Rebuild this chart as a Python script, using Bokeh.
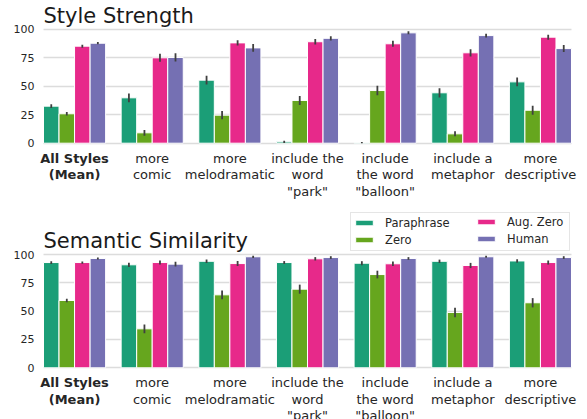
from bokeh.plotting import figure
from bokeh.models import Range1d, Label, Legend, LegendItem, FixedTicker, ColumnDataSource
from bokeh.layouts import column
from bokeh.embed import file_html
from bokeh.resources import INLINE

categories = ["All Styles\n(Mean)", "more\ncomic", "more\nmelodramatic",
              "include the\nword\n\"park\"", "include\nthe word\n\"balloon\"",
              "include a\nmetaphor", "more\ndescriptive"]
series = ["Paraphrase", "Zero", "Aug. Zero", "Human"]
colors = ["#1b9e77", "#66a61e", "#e7298a", "#7570b3"]
y_ticks = [0, 25, 50, 75, 100]

# Style Strength
style_paraphrase = [32.5, 39.8, 55.3, 1.2, 0.5, 44.2, 53.8]
style_zero = [25.8, 9.1, 24.6, 37.5, 46.2, 8.2, 28.9]
style_aug_zero = [85.1, 74.9, 88.0, 89.0, 87.2, 79.3, 93.0]
style_human = [87.7, 75.2, 83.6, 92.0, 96.8, 94.4, 83.0]
style_paraphrase_err = [1.7, 3.8, 3.9, 1.0, 0.5, 4.1, 3.8]
style_zero_err = [1.5, 2.5, 3.7, 4.0, 4.1, 2.2, 3.9]
style_aug_zero_err = [1.3, 3.5, 2.3, 2.5, 2.6, 3.2, 2.2]
style_human_err = [1.0, 3.6, 3.4, 1.9, 1.3, 1.6, 3.1]

# Semantic Similarity
sem_paraphrase = [92.9, 90.9, 94.0, 92.9, 92.3, 94.0, 94.3]
sem_zero = [59.4, 34.4, 64.4, 69.4, 82.3, 48.8, 57.4]
sem_aug_zero = [92.9, 92.9, 92.0, 96.2, 91.8, 90.3, 92.9]
sem_human = [96.5, 91.5, 98.0, 97.3, 96.5, 98.0, 97.3]
sem_paraphrase_err = [1.2, 1.9, 1.5, 1.3, 1.8, 1.5, 1.5]
sem_zero_err = [1.6, 3.8, 3.8, 4.0, 3.4, 4.1, 4.1]
sem_aug_zero_err = [1.0, 1.8, 2.2, 1.5, 2.0, 2.3, 1.8]
sem_human_err = [0.9, 2.2, 1.0, 1.2, 1.2, 0.9, 1.2]

FONT = "DejaVu Sans"
TEXT = "#262626"
BAR_W = 0.2
OFFSETS = [-0.3, -0.1, 0.1, 0.3]

# layout (pixels)
W = 582
LEFT = 36          # frame left
BARS_LEFT = 43     # where the first bar starts
BARS_RIGHT = 571   # where the last bar ends
X0 = -0.4
X1 = len(categories) - 0.6
PX_PER_X = (BARS_RIGHT - BARS_LEFT) / (X1 - X0)
X_START = X0 - (BARS_LEFT - LEFT) / PX_PER_X
X_END = X0 + (W - BARS_LEFT) / PX_PER_X


def make_panel(title, values, errs, height, px100, px0, title_top_px):
    ppu = (px0 - px100) / 100.0
    y_end = 100 + px100 / ppu
    y_start = -(height - px0) / ppu
    p = figure(width=W, height=height, title=None,
               x_range=Range1d(X_START, X_END),
               y_range=Range1d(y_start, y_end),
               output_backend="svg", toolbar_location=None,
               min_border_left=LEFT, min_border_right=0,
               min_border_top=0, min_border_bottom=0)
    p.outline_line_color = None
    p.background_fill_color = "white"
    p.xaxis.visible = False
    p.xgrid.visible = False
    grid_ok = False
    try:
        p.ygrid.cross_bounds = (X0, X1)
        grid_ok = True
    except Exception:
        grid_ok = False
    if grid_ok:
        p.ygrid.ticker = FixedTicker(ticks=y_ticks)
        p.ygrid.grid_line_color = "#dcdcdc"
        p.ygrid.grid_line_width = 1.5
    else:
        p.ygrid.visible = False
        p.segment(x0=[X0] * len(y_ticks), x1=[X1] * len(y_ticks),
                  y0=y_ticks, y1=y_ticks, line_color="#dcdcdc", line_width=1.5)
    ax = p.yaxis[0]
    ax.ticker = FixedTicker(ticks=y_ticks)
    ax.axis_line_color = None
    ax.major_tick_line_color = None
    ax.minor_tick_line_color = None
    ax.major_tick_out = 0
    ax.major_tick_in = 0
    ax.minor_tick_out = 0
    ax.minor_tick_in = 0
    ax.major_label_standoff = 2
    ax.major_label_text_font = FONT
    ax.major_label_text_font_size = "11px"
    ax.major_label_text_color = TEXT

    renderers = []
    for j, name in enumerate(series):
        xs = [i + OFFSETS[j] for i in range(len(categories))]
        vals = values[j]
        e = errs[j]
        src = ColumnDataSource(dict(
            x=xs, top=vals,
            lo=[v - d for v, d in zip(vals, e)],
            hi=[v + d for v, d in zip(vals, e)]))
        r = p.vbar(x="x", top="top", bottom=0, width=BAR_W, source=src,
                   fill_color=colors[j], line_color="white", line_width=1)
        p.segment(x0="x", x1="x", y0="lo", y1="hi", source=src,
                  line_color="#404040", line_width=1.8)
        renderers.append(r)

    label_y = -7.5 / ppu
    for i, cat in enumerate(categories):
        p.add_layout(Label(x=i, y=label_y, text=cat, text_align="center",
                           text_baseline="top", text_font=FONT,
                           text_font_size="13px", text_color=TEXT,
                           text_line_height=1.1,
                           text_font_style="bold" if i == 0 else "normal"))
    p.add_layout(Label(x=X0, y=100 + (px100 - title_top_px) / ppu, text=title,
                       text_align="left", text_baseline="top",
                       text_font=FONT, text_font_size="21px",
                       text_color="#1a1a1a"))
    return p, renderers


H1 = 200
H2 = 219
p1, _ = make_panel("Style Strength",
                   [style_paraphrase, style_zero, style_aug_zero, style_human],
                   [style_paraphrase_err, style_zero_err, style_aug_zero_err, style_human_err],
                   H1, 28.7, 142.7, 3.3)
p2, rs = make_panel("Semantic Similarity",
                    [sem_paraphrase, sem_zero, sem_aug_zero, sem_human],
                    [sem_paraphrase_err, sem_zero_err, sem_aug_zero_err, sem_human_err],
                    H2, 254 - H1, 367.3 - H1, 228.4 - H1)

leg_bottom = H2 - (250.7 - H1)
common = dict(label_text_font=FONT, label_text_font_size="11.5px",
              label_text_color=TEXT, glyph_width=22, glyph_height=7,
              label_standoff=10, label_height=16, padding=2, spacing=1, margin=0)
leg1 = Legend(items=[LegendItem(label=series[0], renderers=[rs[0]]),
                     LegendItem(label=series[1], renderers=[rs[1]])],
              location=(350 - LEFT, leg_bottom), label_width=182,
              border_line_color="#cccccc", border_line_width=1,
              background_fill_color="white", background_fill_alpha=0.8,
              **common)
leg2 = Legend(items=[LegendItem(label=series[2], renderers=[rs[2]]),
                     LegendItem(label=series[3], renderers=[rs[3]])],
              location=(473 - LEFT, leg_bottom + 2),
              border_line_color="#cccccc", border_line_width=1, border_line_alpha=0,
              background_fill_alpha=0,
              **common)
p2.add_layout(leg1)
p2.add_layout(leg2)

layout = column(p1, p2, spacing=0)
open("out.html", "w").write(file_html(layout, INLINE))
